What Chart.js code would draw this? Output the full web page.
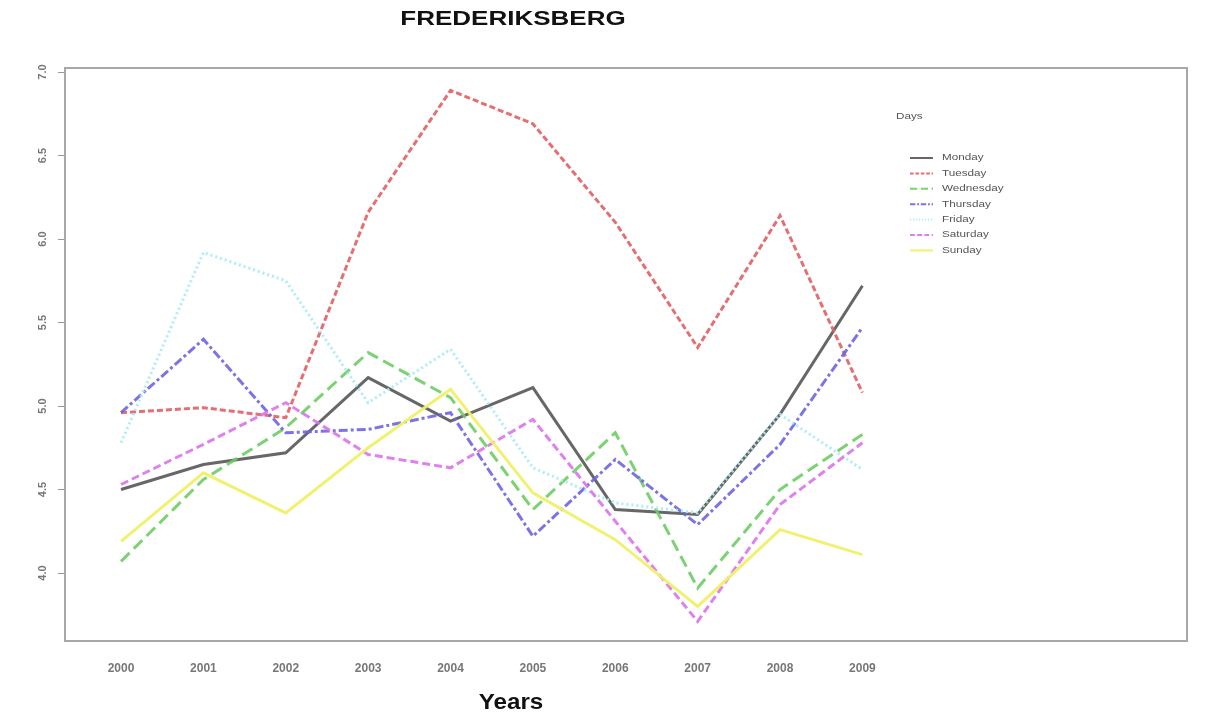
<!DOCTYPE html>
<html>
<head>
<meta charset="utf-8">
<script src="https://cdn.jsdelivr.net/npm/chart.js@4.4.1/dist/chart.umd.min.js"></script>
<style>
  html, body { margin: 0; padding: 0; background: #ffffff; }
  #wrap { width: 1219px; height: 721px; }
</style>
</head>
<body>
<div id="wrap"><canvas id="c" width="1219" height="721"></canvas></div>
<script>
const years = [2000, 2001, 2002, 2003, 2004, 2005, 2006, 2007, 2008, 2009];
const yTicks = [4.0, 4.5, 5.0, 5.5, 6.0, 6.5, 7.0];
const chartTitle = "FREDERIKSBERG";
const xTitle = "Years";
const legendTitle = "Days";

const monday    = [4.50, 4.65, 4.72, 5.17, 4.91, 5.11, 4.38, 4.35, 4.95, 5.72];
const tuesday   = [4.96, 4.99, 4.93, 6.16, 6.89, 6.69, 6.10, 5.35, 6.14, 5.08];
const wednesday = [4.07, 4.56, 4.87, 5.32, 5.05, 4.38, 4.84, 3.91, 4.50, 4.83];
const thursday  = [4.96, 5.40, 4.84, 4.86, 4.96, 4.22, 4.68, 4.29, 4.77, 5.47];
const friday    = [4.78, 5.92, 5.75, 5.02, 5.34, 4.63, 4.42, 4.36, 4.95, 4.62];
const saturday  = [4.53, 4.77, 5.02, 4.71, 4.63, 4.92, 4.31, 3.71, 4.41, 4.78];
const sunday    = [4.19, 4.60, 4.36, 4.75, 5.10, 4.48, 4.20, 3.80, 4.26, 4.11];

const dayNames = ["Monday", "Tuesday", "Wednesday", "Thursday", "Friday", "Saturday", "Sunday"];
const dayValues = [monday, tuesday, wednesday, thursday, friday, saturday, sunday];
const dayColors = ["rgba(95,95,95,0.95)", "rgba(225,95,100,0.9)", "rgba(110,205,100,0.9)",
                   "rgba(110,100,225,0.9)", "rgba(170,235,245,0.95)", "rgba(220,115,235,0.9)",
                   "rgba(240,240,105,0.95)"];
const dayDashes = [[], [6, 3], [12, 6], [9, 3, 3, 3], [2, 3], [8, 4], []];

const datasets = dayNames.map((name, i) => ({
  label: name,
  data: years.map((y, j) => ({ x: y, y: dayValues[i][j] })),
  borderColor: dayColors[i],
  backgroundColor: dayColors[i],
  borderDash: dayDashes[i],
  borderWidth: 3,
  pointRadius: 0,
  tension: 0,
  fill: false,
  order: 7 - i
}));

const FONT = '"Liberation Sans", Arial, sans-serif';

const decor = {
  id: 'decor',
  afterDraw(chart) {
    const ctx = chart.ctx;
    const a = chart.chartArea;
    ctx.save();
    // plot box
    ctx.strokeStyle = '#a8a8a8';
    ctx.lineWidth = 2;
    ctx.strokeRect(a.left, a.top, a.right - a.left, a.bottom - a.top);
    // y tick labels (rotated, R style)
    const ys = chart.scales.y;
    ctx.fillStyle = '#777';
    ctx.font = 'bold 11px ' + FONT;
    ctx.textAlign = 'center';
    ctx.textBaseline = 'middle';
    yTicks.forEach(v => {
      const py = ys.getPixelForValue(v);
      ctx.save();
      ctx.translate(43, py);
      ctx.rotate(-Math.PI / 2);
      ctx.fillText(v.toFixed(1), 0, 0);
      ctx.restore();
    });
    // title
    ctx.save();
    ctx.fillStyle = '#111';
    ctx.font = 'bold 20px ' + FONT;
    ctx.translate(513, 19);
    ctx.scale(1.3, 1);
    ctx.textAlign = 'center';
    ctx.textBaseline = 'middle';
    ctx.fillText(chartTitle, 0, 0);
    ctx.restore();
    // x axis title
    ctx.save();
    ctx.fillStyle = '#111';
    ctx.font = 'bold 22px ' + FONT;
    ctx.translate(511, 703);
    ctx.scale(1.1, 1);
    ctx.textAlign = 'center';
    ctx.textBaseline = 'middle';
    ctx.fillText(xTitle, 0, 0);
    ctx.restore();
    // legend
    ctx.font = '9px ' + FONT;
    ctx.fillStyle = '#555';
    ctx.textAlign = 'left';
    ctx.textBaseline = 'middle';
    ctx.save();
    ctx.translate(896, 117);
    ctx.scale(1.3, 1);
    ctx.fillText(legendTitle, 0, 0);
    ctx.restore();
    chart.data.datasets.forEach((ds, i) => {
      const y = 158 + i * 15.4;
      ctx.save();
      ctx.strokeStyle = ds.borderColor;
      ctx.lineWidth = 2;
      ctx.setLineDash((ds.borderDash || []).map(d => d * 0.6));
      ctx.beginPath();
      ctx.moveTo(910, y);
      ctx.lineTo(933, y);
      ctx.stroke();
      ctx.restore();
      ctx.save();
      ctx.fillStyle = '#555';
      ctx.translate(942, y);
      ctx.scale(1.3, 1);
      ctx.fillText(ds.label, 0, 0);
      ctx.restore();
    });
    ctx.restore();
  }
};

new Chart(document.getElementById('c'), {
  type: 'line',
  data: { datasets },
  options: {
    responsive: false,
    animation: false,
    devicePixelRatio: 1,
    layout: { padding: { left: 0, top: 68, right: 32, bottom: 0 } },
    plugins: {
      legend: { display: false },
      tooltip: { enabled: false },
      title: { display: false }
    },
    scales: {
      x: {
        type: 'linear',
        min: 1999.32,
        max: 2012.94,
        afterFit(s) { s.height = 80; },
        afterBuildTicks(s) { s.ticks = years.map(v => ({ value: v })); },
        grid: { display: false, drawTicks: false },
        border: { display: false },
        ticks: {
          padding: 20,
          color: '#777',
          font: { family: FONT, size: 12, weight: 'bold' },
          callback: v => String(v),
          maxRotation: 0,
          autoSkip: false
        },
        title: { display: false }
      },
      y: {
        type: 'linear',
        min: 3.593,
        max: 7.024,
        afterFit(s) { s.width = 65; },
        afterBuildTicks(s) { s.ticks = yTicks.map(v => ({ value: v })); },
        grid: { display: true, drawOnChartArea: false, drawTicks: true, tickLength: 7, color: '#999', lineWidth: 1 },
        border: { display: false },
        ticks: { display: false }
      }
    }
  },
  plugins: [decor]
});
</script>
</body>
</html>
